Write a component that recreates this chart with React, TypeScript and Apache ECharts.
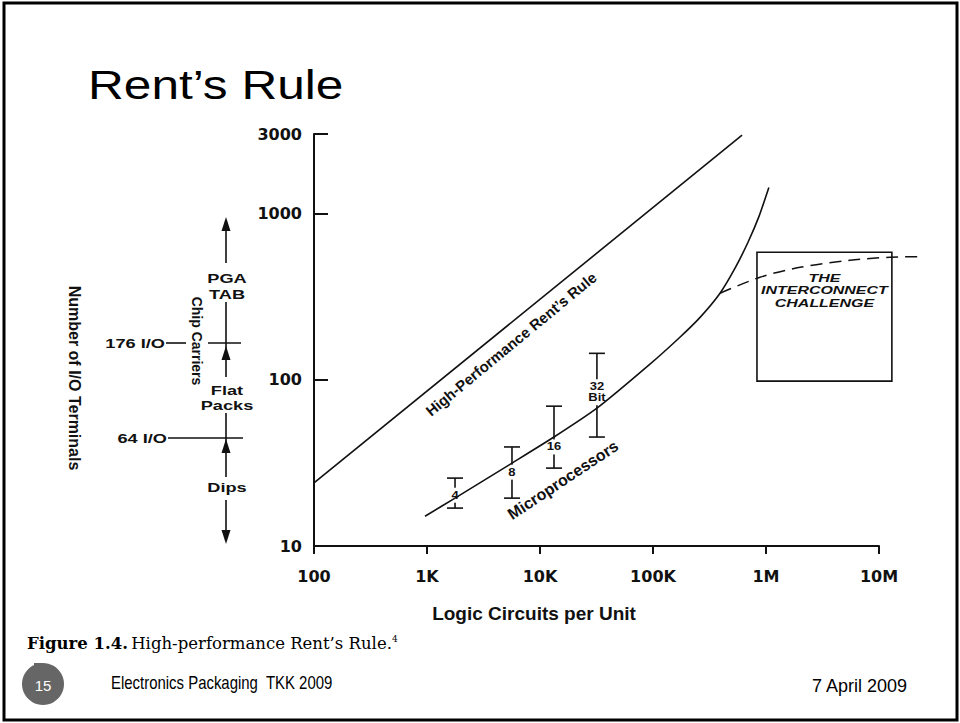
import React, { useEffect, useRef } from "react";
import * as echarts from "echarts";

// ---- axis ticks ----
const xTickValues = [100, 1000, 10000, 100000, 1000000, 10000000];
const xTickLabels = ["100", "1K", "10K", "100K", "1M", "10M"];

// ---- High-Performance Rent's Rule (straight line in log-log) ----
const rentX = [100, 614000];
const rentY = [24, 2950];

// ---- Microprocessors curve ----
const microX = [960, 1770, 5650, 13300, 31900, 94000, 173000, 261000, 392000, 532000, 693000, 867000, 1060000];
const microY = [15.1, 19.4, 31.5, 45.2, 67.4, 124, 180, 237, 331, 468, 670, 959, 1432];

// ---- dashed branch (interconnect limit) ----
const dashX = [392000, 885000, 2000000, 5530000, 12500000, 23000000];
const dashY = [331, 413, 474, 522, 545, 548];

// ---- microprocessor ranges (4/8/16/32 bit) ----
const barX = [1770, 5650, 13300, 31900];
const barLow = [16.9, 19.4, 29.4, 45.2];
const barHigh = [25.6, 39.4, 69.3, 144];
const barLabelY = [20.2, 27.8, 39.4, 84];
const barLabels = ["4", "8", "16", "32\nBit"];

// ---- interconnect challenge box ----
const boxX = [832000, 13000000];
const boxY = [98, 584];
const boxText = "THE\nINTERCONNECT\nCHALLENGE";

const INK = "#111";

function xLabel(v: number): string {
  for (let i = 0; i < xTickValues.length; i++) {
    if (Math.abs(Math.log10(v) - Math.log10(xTickValues[i])) < 1e-6) return xTickLabels[i];
  }
  return "";
}

function upArrow(x: number, tip: number) {
  return { type: "polygon", shape: { points: [[x, tip], [x - 4.5, tip + 14], [x + 4.5, tip + 14]] }, style: { fill: INK } };
}
function downArrow(x: number, tip: number) {
  return { type: "polygon", shape: { points: [[x, tip], [x - 4.5, tip - 14], [x + 4.5, tip - 14]] }, style: { fill: INK } };
}
function seg(x1: number, y1: number, x2: number, y2: number, w = 1.6) {
  return { type: "line", shape: { x1, y1, x2, y2 }, style: { stroke: INK, lineWidth: w } };
}
function label(text: string, x: number, y: number, opts: any = {}) {
  return {
    type: "text",
    x,
    y,
    rotation: opts.rotation || 0,
    scaleX: opts.scaleX || 1,
    style: {
      text,
      fill: opts.fill || INK,
      fontFamily: opts.fontFamily || "Liberation Sans",
      fontWeight: opts.fontWeight || "bold",
      fontStyle: opts.fontStyle || "normal",
      fontSize: opts.fontSize || 13,
      align: opts.align || "center",
      verticalAlign: "middle",
      lineHeight: opts.lineHeight,
    },
  };
}

export default function App() {
  const ref = useRef<HTMLDivElement>(null);

  useEffect(() => {
    if (!ref.current) return;
    const chart = echarts.init(ref.current, undefined, { renderer: "svg" });

    const AX = 226; // annotation arrow column
    const annoFont = { fontSize: 13, scaleX: 1.4 };

    const option: any = {
      animation: false,
      backgroundColor: "#fff",
      grid: { left: 314, top: 134, width: 565, height: 412, containLabel: false, outerBoundsMode: "none" },
      xAxis: {
        type: "log",
        logBase: 10,
        min: 100,
        max: 10000000,
        axisLine: { show: true, lineStyle: { color: INK, width: 2 } },
        axisTick: { show: true, inside: false, length: 8, lineStyle: { color: INK, width: 2 } },
        axisLabel: {
          margin: 22,
          color: INK,
          fontFamily: "DejaVu Sans",
          fontWeight: "bold",
          fontSize: 16,
          formatter: (v: number) => xLabel(v),
        },
        splitLine: { show: false },
      },
      yAxis: {
        type: "log",
        logBase: 10,
        min: 10,
        max: 3000,
        axisLine: { show: true, lineStyle: { color: INK, width: 2 } },
        axisTick: { show: true, inside: true, length: 14, lineStyle: { color: INK, width: 2 } },
        axisLabel: {
          margin: 12,
          color: INK,
          fontFamily: "DejaVu Sans",
          fontWeight: "bold",
          fontSize: 16,
          formatter: (v: number) => String(Math.round(v)),
        },
        splitLine: { show: false },
      },
      series: [
        {
          name: "High-Performance Rent's Rule",
          type: "line",
          data: rentX.map((x, i) => [x, rentY[i]]),
          symbol: "none",
          lineStyle: { color: INK, width: 1.6 },
          silent: true,
        },
        {
          name: "Microprocessors",
          type: "line",
          data: microX.map((x, i) => [x, microY[i]]),
          symbol: "none",
          smooth: 0.2,
          lineStyle: { color: INK, width: 1.6 },
          silent: true,
        },
        {
          name: "Interconnect limit",
          type: "custom",
          clip: false,
          data: dashX.map((x, i) => [x, dashY[i]]),
          renderItem: (params: any, api: any) => {
            if (params.dataIndex !== 0) return null;
            const pts = dashX.map((x, i) => api.coord([x, dashY[i]]));
            return {
              type: "polyline",
              shape: { points: pts, smooth: 0.3 },
              style: { stroke: INK, lineWidth: 1.5, lineDash: [12, 7], fill: "none" },
            };
          },
        },
        {
          name: "Word size",
          type: "custom",
          clip: false,
          data: barX.map((x, i) => [x, barLow[i], barHigh[i], barLabelY[i]]),
          renderItem: (params: any, api: any) => {
            const x = api.value(0);
            const pLo = api.coord([x, api.value(1)]);
            const pHi = api.coord([x, api.value(2)]);
            const pL = api.coord([x, api.value(3)]);
            const w = 8;
            return {
              type: "group",
              children: [
                { type: "line", shape: { x1: pLo[0], y1: pLo[1], x2: pHi[0], y2: pHi[1] }, style: { stroke: INK, lineWidth: 1.6 } },
                { type: "line", shape: { x1: pLo[0] - w, y1: pLo[1], x2: pLo[0] + w, y2: pLo[1] }, style: { stroke: INK, lineWidth: 1.6 } },
                { type: "line", shape: { x1: pHi[0] - w, y1: pHi[1], x2: pHi[0] + w, y2: pHi[1] }, style: { stroke: INK, lineWidth: 1.6 } },
                {
                  type: "text",
                  x: pL[0],
                  y: pL[1],
                  scaleX: 1.3,
                  style: {
                    text: barLabels[params.dataIndex],
                    fill: INK,
                    fontFamily: "Liberation Sans",
                    fontWeight: "bold",
                    fontSize: 10,
                    lineHeight: 11,
                    align: "center",
                    verticalAlign: "middle",
                    backgroundColor: "#fff",
                    padding: [2, 1],
                  },
                },
              ],
            };
          },
        },
        {
          name: "The Interconnect Challenge",
          type: "custom",
          clip: false,
          data: [[boxX[0], boxY[0], boxX[1], boxY[1]]],
          renderItem: (params: any, api: any) => {
            const tl = api.coord([api.value(0), api.value(3)]);
            const br = api.coord([api.value(2), api.value(1)]);
            const w = br[0] - tl[0];
            const h = br[1] - tl[1];
            return {
              type: "group",
              children: [
                { type: "rect", shape: { x: tl[0], y: tl[1], width: w, height: h }, style: { fill: "none", stroke: INK, lineWidth: 1.6 } },
                {
                  type: "text",
                  x: tl[0] + w / 2,
                  y: tl[1] + h * 0.3,
                  scaleX: 1.45,
                  style: {
                    text: boxText,
                    fill: INK,
                    fontFamily: "Liberation Sans",
                    fontWeight: "bold",
                    fontStyle: "italic",
                    fontSize: 11,
                    lineHeight: 13,
                    align: "center",
                    verticalAlign: "middle",
                  },
                },
              ],
            };
          },
        },
      ],
      graphic: [
        // slide frame
        { type: "rect", shape: { x: 4, y: 3, width: 953, height: 717 }, style: { fill: "none", stroke: "#000", lineWidth: 3 } },
        // title
        {
          type: "text",
          x: 88,
          y: 85,
          scaleX: 1.24,
          style: { text: "Rent\u2019s Rule", fill: "#000", fontFamily: "Liberation Sans", fontSize: 40, align: "left", verticalAlign: "middle" },
        },
        // axis titles
        label("Logic Circuits per Unit", 534, 613, { fontSize: 19 }),
        label("Number of I/O Terminals", 74, 378, { rotation: -Math.PI / 2, fontSize: 16 }),
        // line labels
        label("High-Performance Rent\u2019s Rule", 511, 344, { rotation: 0.69, fontSize: 15 }),
        label("Microprocessors", 563, 480, { rotation: 0.587, fontSize: 16 }),
        // left annotation column
        upArrow(AX, 217),
        seg(AX, 230, AX, 263),
        label("PGA", AX + 1, 278, annoFont),
        label("TAB", AX + 1, 294, annoFont),
        seg(AX, 302, AX, 377),
        upArrow(AX, 346),
        label("Flat", AX + 1, 390, annoFont),
        label("Packs", AX + 1, 405, annoFont),
        seg(AX, 413, AX, 477),
        upArrow(AX, 439),
        label("Dips", AX + 1, 487, annoFont),
        seg(AX, 500, AX, 530),
        downArrow(AX, 544),
        seg(166, 343, 186, 343),
        seg(208, 343, 241, 343),
        seg(168, 438, 243, 438),
        label("176 I/O", 165, 343, { ...annoFont, align: "right" }),
        label("64 I/O", 167, 438, { ...annoFont, align: "right" }),
        label("Chip Carriers", 197, 341, { rotation: -Math.PI / 2, fontSize: 14 }),
        // figure caption
        {
          type: "text",
          x: 27,
          y: 643,
          style: {
            text: "{b|Figure 1.4.} {r|High-performance Rent\u2019s Rule.}{s|4}",
            fill: "#000",
            verticalAlign: "middle",
            align: "left",
            rich: {
              b: { fontFamily: "DejaVu Serif", fontWeight: "bold", fontSize: 16.5, fill: "#000" },
              r: { fontFamily: "DejaVu Serif", fontSize: 16.5, fill: "#000" },
              s: { fontFamily: "DejaVu Serif", fontSize: 9, fill: "#000", verticalAlign: "top", padding: [0, 0, 8, 0] },
            },
          },
        },
        // footer
        { type: "circle", shape: { cx: 43, cy: 684, r: 21 }, style: { fill: "#666" } },
        { type: "rect", shape: { x: 34, y: 663, width: 9, height: 12 }, style: { fill: "#666" } },
        {
          type: "text",
          x: 43,
          y: 685,
          style: { text: "15", fill: "#fff", fontFamily: "Liberation Sans", fontSize: 15, align: "center", verticalAlign: "middle" },
        },
        {
          type: "text",
          x: 111,
          y: 683,
          scaleX: 0.83,
          style: { text: "Electronics Packaging  TKK 2009", fill: "#000", fontFamily: "Liberation Sans", fontSize: 18, align: "left", verticalAlign: "middle" },
        },
        {
          type: "text",
          x: 907,
          y: 686,
          style: { text: "7 April 2009", fill: "#000", fontFamily: "Liberation Sans", fontSize: 18, align: "right", verticalAlign: "middle" },
        },
      ],
    };

    chart.setOption(option);
    return () => chart.dispose();
  }, []);

  return (
    <div
      ref={ref}
      style={{ position: "absolute", left: 0, top: 0, width: 960, height: 723, background: "#fff" }}
    />
  );
}
